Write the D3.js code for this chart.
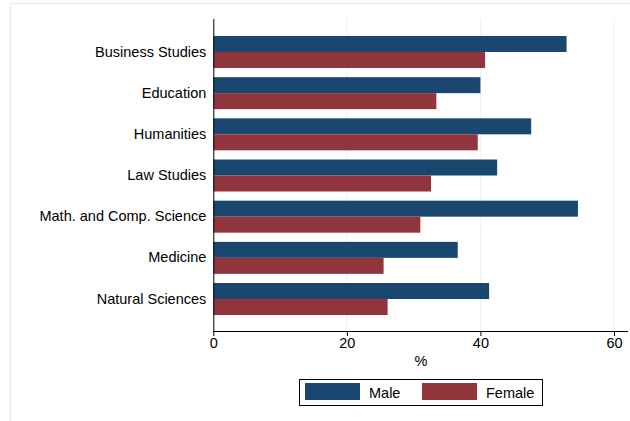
<!DOCTYPE html>
<html><head><meta charset="utf-8">
<script src="https://cdn.jsdelivr.net/npm/d3@7"></script>
<style>body{margin:0;background:#fff}svg{display:block}</style>
</head><body>
<script>
const categories = ["Business Studies","Education","Humanities","Law Studies","Math. and Comp. Science","Medicine","Natural Sciences"];
const male   = [52.9, 40.0, 47.6, 42.5, 54.6, 36.6, 41.3];
const female = [40.7, 33.4, 39.6, 32.6, 31.0, 25.5, 26.1];
const series = [{name:"Male", values:male, color:"#1a476f"},{name:"Female", values:female, color:"#90353b"}];
const xTicks = [0,20,40,60];

(function(){
const W=630,H=421;
const svg=d3.select("body").append("svg").attr("width",W).attr("height",H).style("font-family","Arial, 'Liberation Sans', sans-serif");
svg.append("rect").attr("x",10.5).attr("y",3.5).attr("width",640).attr("height",440).attr("fill","none").attr("stroke","#e6eef0").attr("stroke-width",1.5);

const x=d3.scaleLinear().domain([0,60]).range([213.3,614]);
const y=d3.scaleBand().domain(categories).range([31.4,319.6]).paddingInner(0.223).paddingOuter(0.1115);
const sub=d3.scaleBand().domain(series.map(s=>s.name)).range([0,y.bandwidth()]);
const pTop=19,pBottom=331,pRight=628;

svg.append("g").selectAll("line").data(xTicks.filter(t=>t>0)).join("line")
 .attr("x1",d=>x(d)).attr("x2",d=>x(d)).attr("y1",pTop).attr("y2",pBottom)
 .attr("stroke","#eaf2f3").attr("stroke-width",1);

series.forEach(s=>{
 svg.append("g").selectAll("rect").data(categories).join("rect")
  .attr("x",x(0)).attr("y",(c)=>y(c)+sub(s.name))
  .attr("width",(c,i)=>x(s.values[i])-x(0)).attr("height",sub.bandwidth())
  .attr("fill",s.color);
});

const xa=svg.append("g").attr("transform",`translate(0,${pBottom})`)
 .call(d3.axisBottom(x).tickValues(xTicks).tickSize(5).tickPadding(2));
xa.select(".domain").attr("d",`M${x(0)},0.5H${pRight}`).attr("stroke","#000");
xa.selectAll(".tick line").attr("stroke","#000");
xa.selectAll("text").attr("font-size","14.5px").attr("fill","#000").attr("font-family","Arial, 'Liberation Sans', sans-serif");

const ya=svg.append("g").attr("transform",`translate(${x(0)},0)`)
 .call(d3.axisLeft(y).tickSize(0).tickPadding(7));
ya.select(".domain").attr("d",`M0.5,${pTop}V${pBottom}`).attr("stroke","#000");
ya.selectAll("text").attr("font-size","14.5px").attr("fill","#000").attr("font-family","Arial, 'Liberation Sans', sans-serif");

svg.append("text").attr("x",421).attr("y",366).attr("text-anchor","middle").attr("font-size","14.5px").text("%");

const lg=svg.append("g");
lg.append("rect").attr("x",299.5).attr("y",379.5).attr("width",243).attr("height",26).attr("fill","#fff").attr("stroke","#000").attr("stroke-width",1);
const lx=[305,422];
series.forEach((s,i)=>{
 lg.append("rect").attr("x",lx[i]).attr("y",383).attr("width",55).attr("height",17).attr("fill",s.color);
 lg.append("text").attr("x",lx[i]+64).attr("y",397.5).attr("font-size","14.5px").text(s.name);
});
})();
</script>
</body></html>
